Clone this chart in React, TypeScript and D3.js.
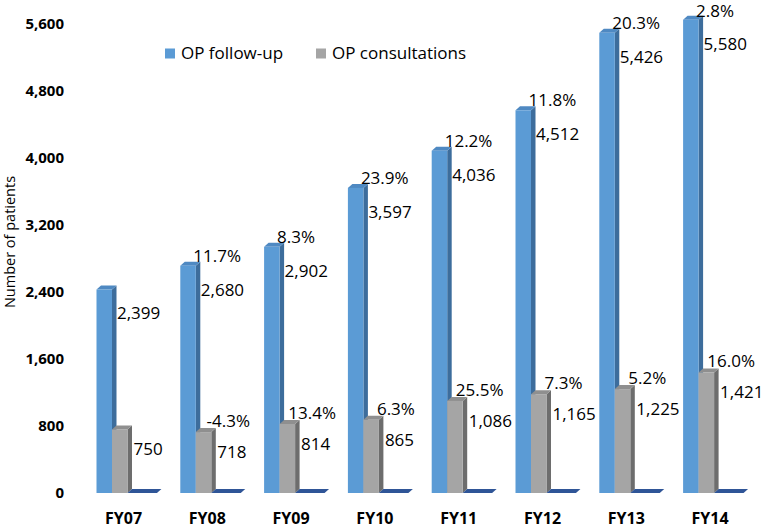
import * as d3 from 'd3';
import { useEffect, useRef } from 'react';

const categories = ['FY07', 'FY08', 'FY09', 'FY10', 'FY11', 'FY12', 'FY13', 'FY14'];
const followUp = [2399, 2680, 2902, 3597, 4036, 4512, 5426, 5580];
const consultations = [750, 718, 814, 865, 1086, 1165, 1225, 1421];
const otherSeries = [0, 0, 0, 0, 0, 0, 0, 0];
const followUpGrowth = ['', '11.7%', '8.3%', '23.9%', '12.2%', '11.8%', '20.3%', '2.8%'];
const consultGrowth = ['', '-4.3%', '13.4%', '6.3%', '25.5%', '7.3%', '5.2%', '16.0%'];
const yTicks = [0, 800, 1600, 2400, 3200, 4000, 4800, 5600];
const seriesNames = ['OP follow-up', 'OP consultations', 'other'];

const FONT = "'Open Sans', sans-serif";

export default function App() {
  const ref = useRef<SVGSVGElement>(null);

  useEffect(() => {
    const svg = d3.select(ref.current);
    svg.selectAll('*').remove();

    const y0 = 493;
    // bars
    const y = d3.scaleLinear().domain([0, 5600]).range([y0, 18]);
    // tick labels sit on the back wall
    const yAxisScale = d3.scaleLinear().domain([0, 5600]).range([y0, 24]);
    const x = d3.scaleBand().domain(categories).range([81.6, 752]).padding(0);
    const xSub = d3.scaleBand().domain(seriesNames).range([-27, 19.5]);
    const center = (c: string) => (x(c) as number) + x.bandwidth() / 2;
    const dx = 4.5;
    const dy = 4;

    // Y axis (labels only)
    const yAxis = svg.append('g')
      .attr('transform', 'translate(64,0)')
      .call(d3.axisLeft(yAxisScale).tickValues(yTicks).tickSize(0).tickPadding(0).tickFormat(d3.format(',')));
    yAxis.select('.domain').remove();
    yAxis.selectAll('text')
      .attr('font-family', FONT)
      .attr('font-size', 15)
      .attr('font-weight', 'bold')
      .attr('fill', '#000');

    svg.append('text')
      .attr('transform', 'translate(15,242) rotate(-90)')
      .attr('text-anchor', 'middle')
      .attr('font-family', FONT)
      .attr('font-size', 14.5)
      .text('Number of patients');

    // X axis labels
    svg.append('g')
      .selectAll('text')
      .data(categories)
      .enter()
      .append('text')
      .attr('x', (d) => center(d))
      .attr('y', 524)
      .attr('text-anchor', 'middle')
      .attr('font-family', FONT)
      .attr('font-size', 16)
      .attr('font-weight', 'bold')
      .text((d) => d);

    const colors = [
      { front: '#5b9bd5', top: '#4f89c2', side: '#3d6d9c' },
      { front: '#a5a5a5', top: '#8f8f8f', side: '#6d6d6d' },
    ];
    const drawBar = (g: any, bx: number, by: number, w: number, col: any) => {
      g.append('polygon')
        .attr('points', `${bx + w},${by} ${bx + w + dx},${by - dy} ${bx + w + dx},${y0 - dy} ${bx + w},${y0}`)
        .attr('fill', col.side);
      g.append('polygon')
        .attr('points', `${bx},${by} ${bx + dx},${by - dy} ${bx + w + dx},${by - dy} ${bx + w},${by}`)
        .attr('fill', col.top);
      g.append('rect')
        .attr('x', bx)
        .attr('y', by)
        .attr('width', w)
        .attr('height', y0 - by)
        .attr('fill', col.front);
    };

    const bars = svg.append('g');
    const w = xSub.bandwidth();
    categories.forEach((cat, i) => {
      const c = center(cat);
      const g = bars.append('g');
      drawBar(g, c + (xSub(seriesNames[0]) as number), y(followUp[i]), w, colors[0]);
      drawBar(g, c + (xSub(seriesNames[1]) as number), y(consultations[i]), w, colors[1]);
      // zero-height third series: only its flat top face shows
      const fx = c + (xSub(seriesNames[2]) as number);
      const fy = y(otherSeries[i]);
      g.append('polygon')
        .attr('points', `${fx},${fy} ${fx + w * 1.9},${fy} ${fx + w * 1.9 + dx},${fy - dy} ${fx + dx},${fy - dy}`)
        .attr('fill', '#2f5597');
    });

    // data labels
    const labels = svg.append('g')
      .attr('font-family', FONT)
      .attr('font-size', 17)
      .attr('fill', '#000');
    categories.forEach((cat, i) => {
      const c = center(cat);
      const ty = y(followUp[i]);
      const gy = y(consultations[i]);
      if (followUpGrowth[i]) {
        labels.append('text').attr('x', c - 14).attr('y', Math.max(ty - 10, 11)).attr('dy', '0.35em').text(followUpGrowth[i]);
      }
      labels.append('text').attr('x', c - 6.5).attr('y', ty + 24).attr('dy', '0.35em').text(d3.format(',')(followUp[i]));
      if (consultGrowth[i]) {
        labels.append('text').attr('x', c + 21).attr('y', gy - 11).attr('dy', '0.35em')
          .attr('text-anchor', 'middle').text(consultGrowth[i]);
      }
      labels.append('text').attr('x', c + 10).attr('y', gy + 20).attr('dy', '0.35em').text(d3.format(',')(consultations[i]));
    });

    // legend
    const legend = svg.append('g').attr('font-family', FONT).attr('font-size', 17);
    const legendItems = [
      { name: seriesNames[0], x: 165, color: colors[0].front },
      { name: seriesNames[1], x: 316, color: colors[1].front },
    ];
    legendItems.forEach((d) => {
      legend.append('rect').attr('x', d.x).attr('y', 48.5).attr('width', 10).attr('height', 10).attr('fill', d.color);
      legend.append('text').attr('x', d.x + 16).attr('y', 53.5).attr('dy', '0.35em').text(d.name);
    });
  }, []);

  return (
    <svg ref={ref} width={765} height={528} style={{ position: 'absolute', left: 0, top: 0, background: '#fff' }} />
  );
}
